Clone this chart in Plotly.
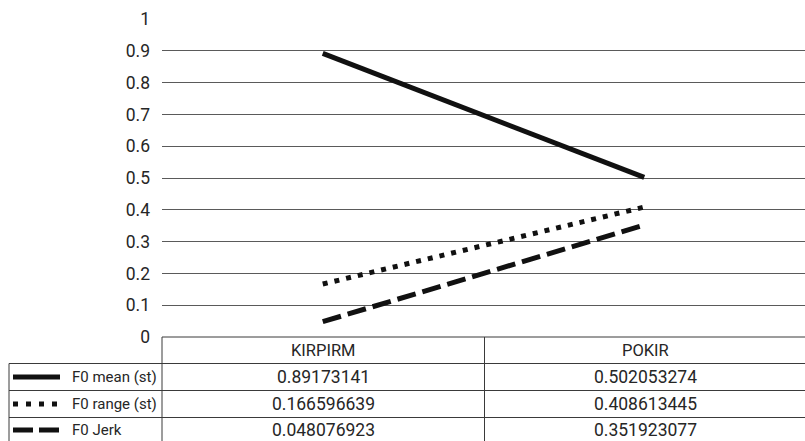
import plotly.graph_objects as go

categories = ["KIRPIRM", "POKIR"]
series_names = ["F0 mean (st)", "F0 range (st)", "F0 Jerk"]
f0_mean = [0.89173141, 0.502053274]
f0_range = [0.166596639, 0.408613445]
f0_jerk = [0.048076923, 0.351923077]
value_labels = [
    ["0.89173141", "0.502053274"],
    ["0.166596639", "0.408613445"],
    ["0.048076923", "0.351923077"],
]
y_ticks = [0, 0.1, 0.2, 0.3, 0.4, 0.5, 0.6, 0.7, 0.8, 0.9, 1]
y_ticktext = ["0", "0.1", "0.2", "0.3", "0.4", "0.5", "0.6", "0.7", "0.8", "0.9", "1"]

W, H = 805, 441
FONT = "Roboto"
TXT = "#262626"
dashes = ["solid", "5px,7px", "19px,7px"]
key_dashes = ["solid", "5px,8px", "20px,6px"]
series = [f0_mean, f0_range, f0_jerk]

fig = go.Figure()
for name, vals, d in zip(series_names, series, dashes):
    fig.add_trace(go.Scatter(
        x=categories, y=vals, mode="lines", name=name,
        line=dict(color="#111111", width=5, dash=d),
        showlegend=False,
    ))

def px(x):
    return x / W

def py(y):
    return 1 - y / H

plot_left, plot_top, plot_bottom = 162, 19, 337
fig.update_layout(
    width=W, height=H,
    margin=dict(l=0, r=0, t=0, b=0),
    paper_bgcolor="white", plot_bgcolor="white",
    xaxis=dict(domain=[px(plot_left), 1], type="category", range=[-0.5, 1.5],
               showgrid=False, showticklabels=False, zeroline=False, showline=False,
               automargin=False),
    yaxis=dict(domain=[py(plot_bottom), py(plot_top)], range=[0, 1],
               tickvals=y_ticks, ticktext=y_ticktext,
               showgrid=True, gridcolor="#5a5a5a", gridwidth=1,
               zeroline=False, showline=False, ticks="",
               ticklabelstandoff=11, automargin=False,
               tickfont=dict(family=FONT, size=17.5, color=TXT)),
)

shapes = []
def hline(x0, x1, y):
    shapes.append(dict(type="line", xref="paper", yref="paper",
                       x0=px(x0), x1=px(x1), y0=py(y), y1=py(y),
                       line=dict(color="#3a3a3a", width=1)))
def vline(x, y0, y1):
    shapes.append(dict(type="line", xref="paper", yref="paper",
                       x0=px(x), x1=px(x), y0=py(y0), y1=py(y1),
                       line=dict(color="#3a3a3a", width=1)))

row_lines = [337, 363.5, 390.5, 417.5]
hline(162, 805, row_lines[0])
for y in row_lines[1:]:
    hline(9, 805, y)
vline(162, 337, 441)
vline(484.5, 337, 441)
vline(9, 363.5, 441)

row_centers = [350, 377, 404, 430]
col_centers = [323, 645]

annotations = []
for c, cx in zip(categories, col_centers):
    annotations.append(dict(x=px(cx), y=py(row_centers[0]), xref="paper", yref="paper",
                            text=c, showarrow=False, xanchor="center", yanchor="middle",
                            font=dict(family=FONT, size=16.5, color=TXT)))
for i, (name, d) in enumerate(zip(series_names, key_dashes)):
    yc = row_centers[i + 1]
    shapes.append(dict(type="line", xref="paper", yref="paper",
                       x0=px(13), x1=px(60), y0=py(yc), y1=py(yc),
                       line=dict(color="#111111", width=5, dash=d)))
    annotations.append(dict(x=px(70), y=py(yc), xref="paper", yref="paper",
                            text=name, showarrow=False, xanchor="left", yanchor="middle",
                            font=dict(family=FONT, size=15, color=TXT)))
    for j, cx in enumerate(col_centers):
        annotations.append(dict(x=px(cx), y=py(yc), xref="paper", yref="paper",
                                text=value_labels[i][j], showarrow=False,
                                xanchor="center", yanchor="middle",
                                font=dict(family=FONT, size=17.5, color=TXT)))

fig.update_layout(shapes=shapes, annotations=annotations)
fig.write_html("out.html")
